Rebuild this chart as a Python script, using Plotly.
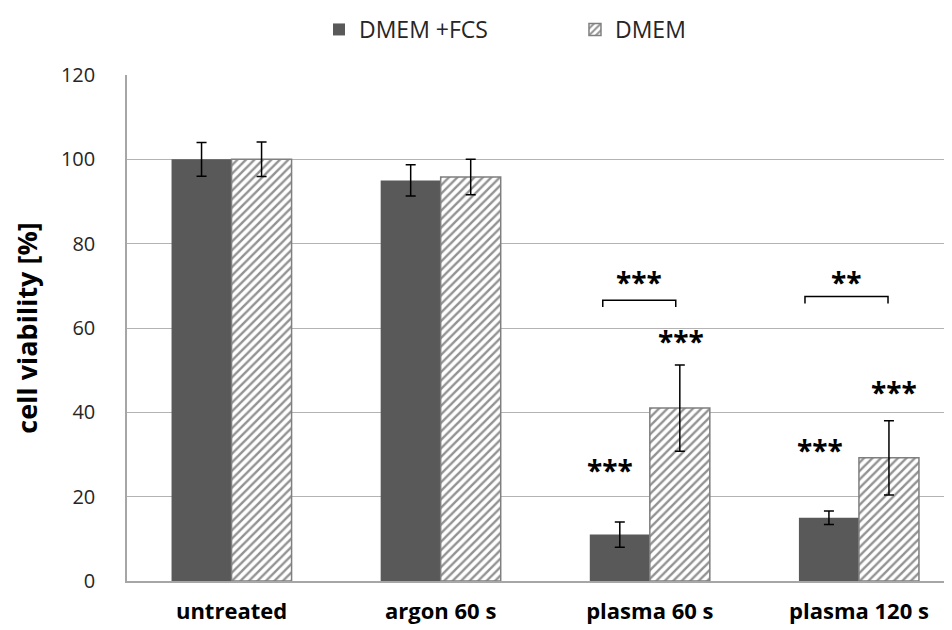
import plotly.graph_objects as go

categories = ["untreated", "argon 60 s", "plasma 60 s", "plasma 120 s"]
fcs_values = [100, 95, 11, 15]
fcs_errors = [4, 3.7, 3, 1.6]
dmem_values = [100, 95.8, 41, 29.2]
dmem_errors = [4.1, 4.2, 10.2, 8.8]
y_ticks = [0, 20, 40, 60, 80, 100, 120]

# significance marks: (x position in category index units, y value, text)
star_x = [1.81, 2.148, 2.813, 3.167]
star_y = [26.4, 56.9, 31.0, 44.9]
star_text = ["***", "***", "***", "***"]
bracket_x0 = [1.775, 2.742]
bracket_x1 = [2.124, 3.139]
bracket_y = [66.6, 67.5]
bracket_leg = [1.6, 1.7]
bracket_text = ["***", "**"]
bracket_text_y = [70.9, 70.9]

FONT = "Open Sans"
DARK = "#595959"

fig = go.Figure()
fig.add_trace(go.Bar(
    x=categories, y=fcs_values, name="DMEM +FCS",
    marker=dict(color=DARK, line=dict(width=0)),
    error_y=dict(type="data", array=fcs_errors, color="black", thickness=1.5, width=5),
))
fig.add_trace(go.Bar(
    x=categories, y=dmem_values, name="DMEM",
    marker=dict(color="white", line=dict(color="#7f7f7f", width=1.5),
                pattern=dict(shape="/", fgcolor="#262626", bgcolor="white", size=6, solidity=0.4)),
    error_y=dict(type="data", array=dmem_errors, color="black", thickness=1.5, width=5),
))

for x, y, t in zip(star_x, star_y, star_text):
    fig.add_annotation(x=x, y=y, xref="x", yref="y", text=t, showarrow=False,
                       font=dict(family=FONT, size=28, color="black", weight="bold"), yanchor="middle")

for x0, x1, y, leg, t, ty in zip(bracket_x0, bracket_x1, bracket_y, bracket_leg, bracket_text, bracket_text_y):
    fig.add_shape(type="path", xref="x", yref="y",
                  path=f"M {x0},{y-leg} L {x0},{y} L {x1},{y} L {x1},{y-leg}",
                  line=dict(color="black", width=1.5))
    fig.add_annotation(x=(x0 + x1) / 2, y=ty, xref="x", yref="y", text=t, showarrow=False,
                       font=dict(family=FONT, size=28, color="black", weight="bold"), yanchor="middle")

fig.update_layout(
    width=944, height=622,
    margin=dict(l=119, r=0, t=59, b=49),
    paper_bgcolor="white", plot_bgcolor="white",
    barmode="group", bargap=0.426, bargroupgap=0,
    font=dict(family=FONT, color="#262626"),
    legend=dict(orientation="h", x=0.543, xanchor="center", y=1.09, yanchor="middle",
                font=dict(size=23, color="#262626"), entrywidth=211, itemwidth=30),
    showlegend=True,
)
fig.update_xaxes(
    type="category", range=[-0.5, 3.445],
    showline=True, linecolor="#a6a6a6", linewidth=1.5,
    tickfont=dict(family=FONT, size=22, color="black", weight="bold"),
    ticks="", ticklabelstandoff=10,
)
fig.update_yaxes(
    range=[0, 120], tickvals=y_ticks,
    showgrid=True, gridcolor="#b3b3b3", gridwidth=1,
    showline=True, linecolor="#a6a6a6", linewidth=1.5,
    tickfont=dict(family=FONT, size=20, color="#262626"),
    ticks="", ticklabelstandoff=26, zeroline=False,
    title=dict(text="cell viability [%]", font=dict(family=FONT, size=27, color="black", weight="bold"), standoff=16),
)

fig.write_html("out.html")
